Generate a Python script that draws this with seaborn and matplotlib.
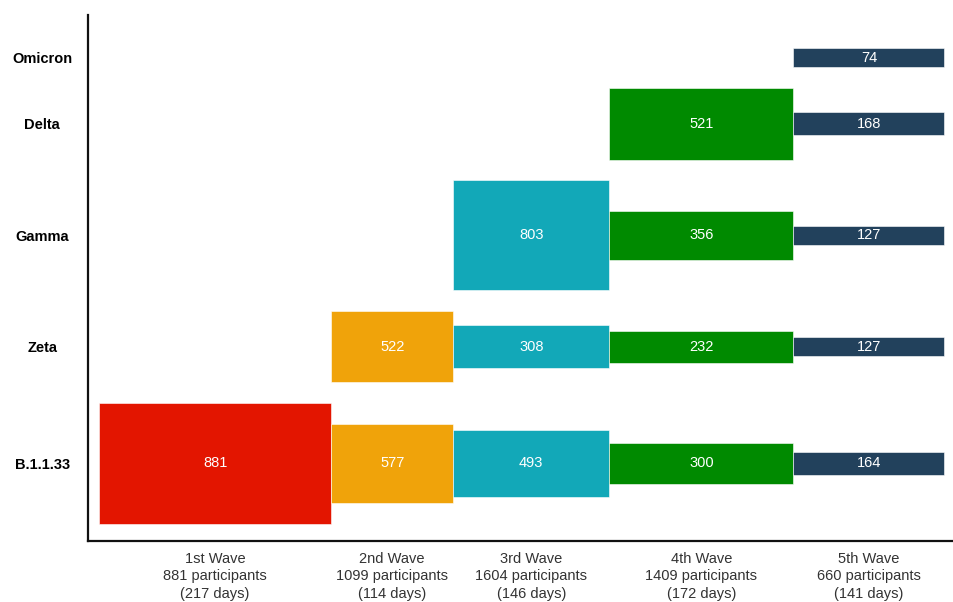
import numpy as np
import pandas as pd
import matplotlib
matplotlib.use("Agg")
import matplotlib.pyplot as plt
import seaborn as sns

# Variantes (de baixo para cima) e ondas
variantes = ["B.1.1.33", "Zeta", "Gamma", "Delta", "Omicron"]
ondas = ["1st Wave", "2nd Wave", "3rd Wave", "4th Wave", "5th Wave"]
participantes = [881, 1099, 1604, 1409, 660]
dias = [217, 114, 146, 172, 141]

# Participantes por variante em cada onda (None = variante ausente)
onda1 = [881, None, None, None, None]
onda2 = [577, 522, None, None, None]
onda3 = [493, 308, 803, None, None]
onda4 = [300, 232, 356, 521, None]
onda5 = [164, 127, 127, 168, 74]

cores = ["#E31500", "#F0A30A", "#12A8B8", "#008A00", "#22415C"]

# Montar tabela longa
linhas = []
for i, valores in enumerate([onda1, onda2, onda3, onda4, onda5]):
    for j, v in enumerate(valores):
        if v is not None:
            linhas.append({"Onda": ondas[i], "i_onda": i, "Variante": variantes[j],
                           "i_var": j, "Participantes": v})
df = pd.DataFrame(linhas)

# Altura minima para as barras pequenas ficarem legiveis
altura_min = 140
df["Altura"] = df["Participantes"].clip(lower=altura_min)

# Posicao horizontal: largura de cada onda proporcional aos dias
inicio = np.concatenate([[0], np.cumsum(dias)[:-1]])
df["Inicio"] = inicio[df["i_onda"]]
df["Largura"] = np.array(dias)[df["i_onda"]]

# Posicao vertical de cada faixa: empilha pela maior barra de cada variante
espaco = 150
maximo = df.groupby("i_var")["Altura"].max().sort_index().values
centros = [0.0]
for k in range(1, len(variantes)):
    centros.append(centros[-1] + maximo[k - 1] / 2 + espaco + maximo[k] / 2)
centros = np.array(centros)
df["Centro"] = centros[df["i_var"]]

sns.set_theme(style="white")
plt.rcParams["font.family"] = ["Liberation Sans", "DejaVu Sans"]

fig = plt.figure(figsize=(9.54, 6.02), dpi=100)
ax = fig.add_axes([0.0922, 0.1013, 0.9078, 0.874])

for _, r in df.iterrows():
    ax.bar(r["Inicio"], r["Altura"], width=r["Largura"], bottom=r["Centro"] - r["Altura"] / 2,
           align="edge", color=cores[r["i_onda"]], edgecolor="white", linewidth=0.4)
    ax.text(r["Inicio"] + r["Largura"] / 2, r["Centro"], str(r["Participantes"]),
            ha="center", va="center", color="white", fontsize=10.5)

ax.set_xlim(-10.3, 799)
ax.set_ylim(-566, 3270)

# Rotulos do eixo x
rotulos_x = [f"{o}\n{p} participants\n({d} days)" for o, p, d in zip(ondas, participantes, dias)]
ax.set_xticks(inicio + np.array(dias) / 2)
ax.set_xticklabels(rotulos_x, fontsize=10.5, color="#333333", linespacing=1.3)

# Rotulos do eixo y
ax.set_yticks(centros)
ax.set_yticklabels(variantes, fontsize=10.5, fontweight="bold", color="black")
for lbl in ax.get_yticklabels():
    lbl.set_horizontalalignment("center")

ax.tick_params(axis="x", length=0, pad=8)
ax.tick_params(axis="y", length=0, pad=33)

sns.despine(ax=ax)
for s in ["left", "bottom"]:
    ax.spines[s].set_color("#111111")
    ax.spines[s].set_linewidth(1.6)
ax.grid(False)

fig.savefig("out.png", dpi=100)
